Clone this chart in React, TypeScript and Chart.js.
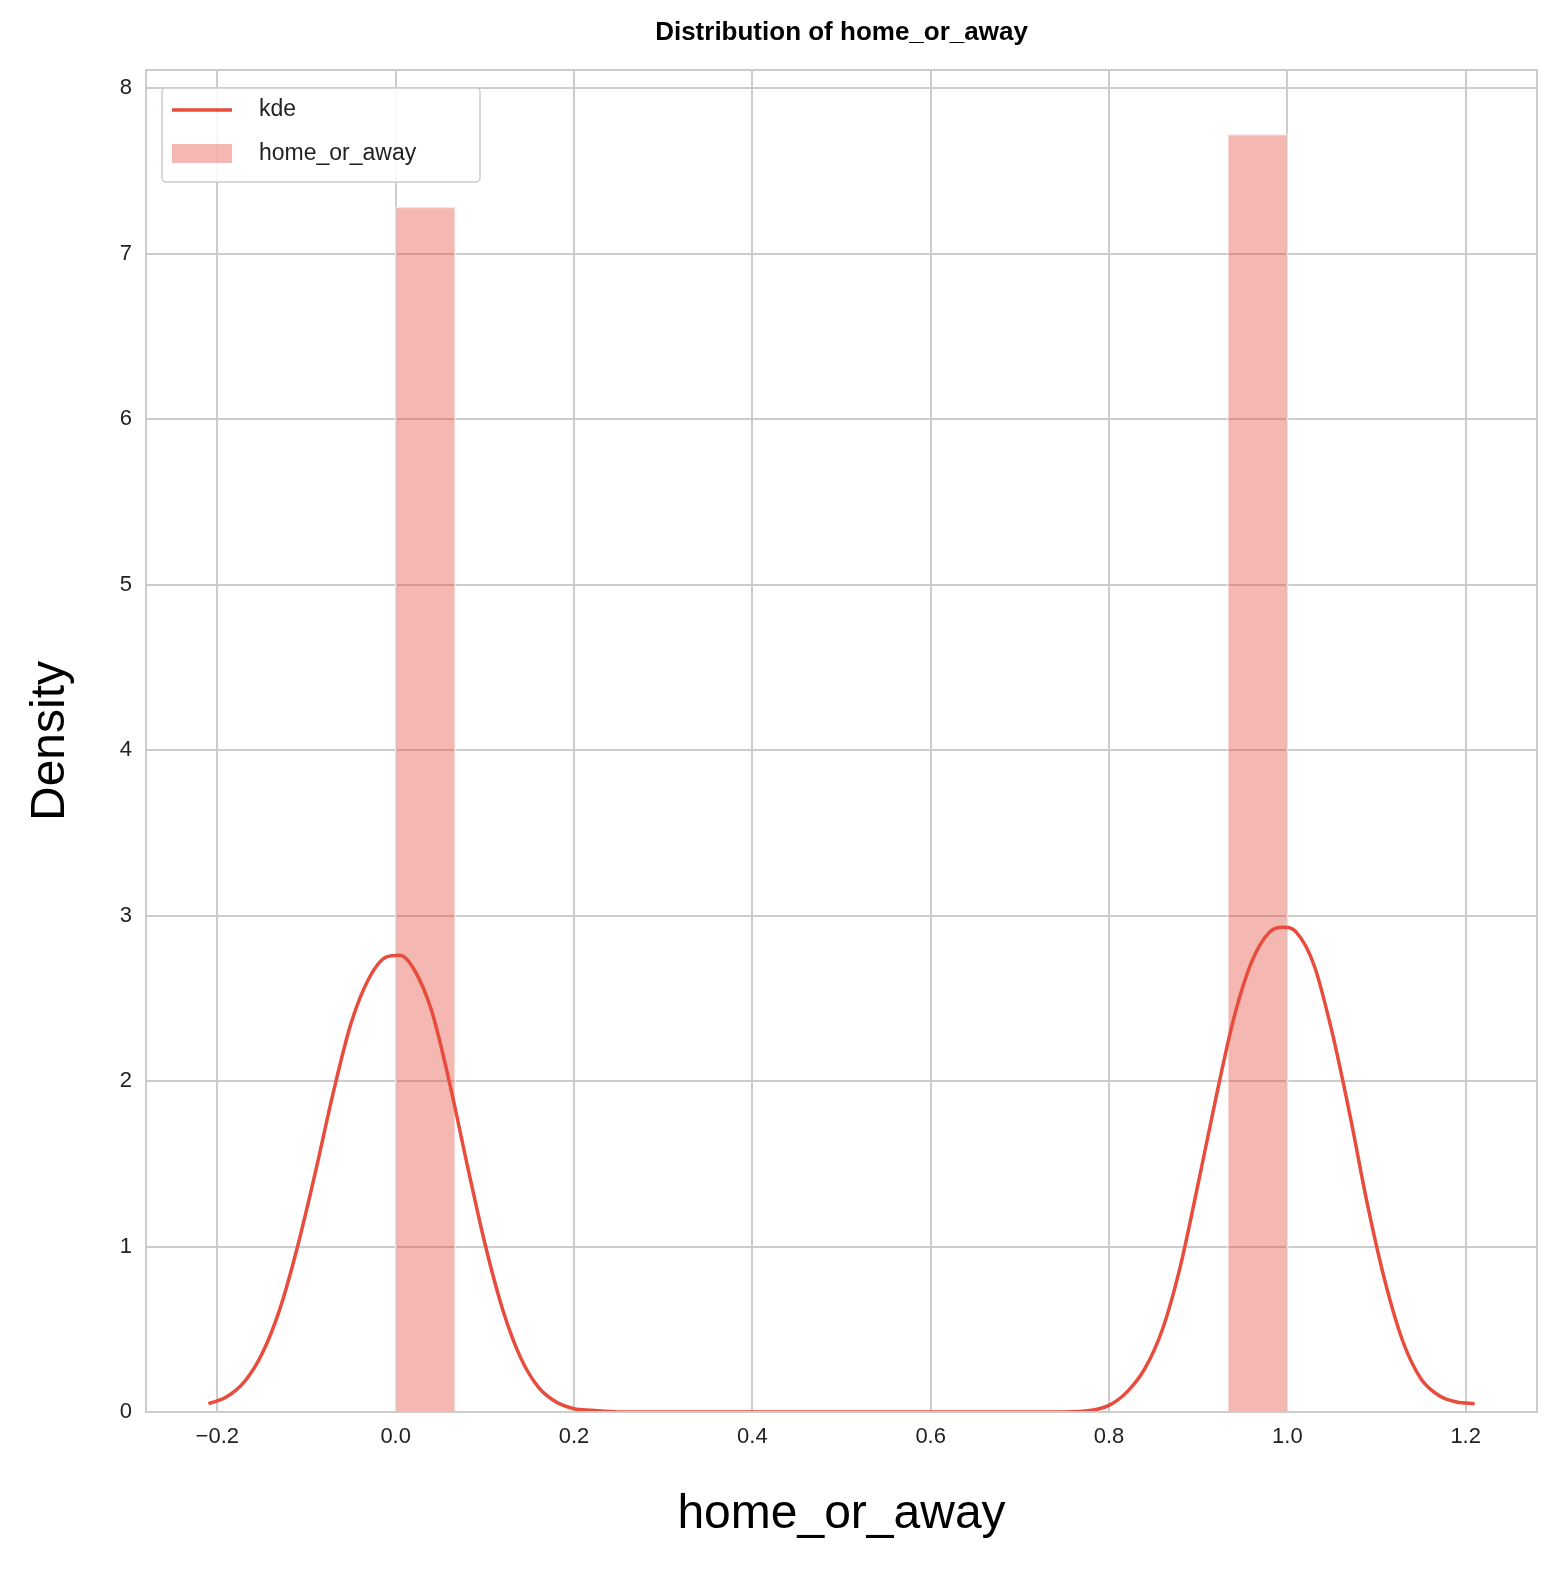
import { useEffect, useRef } from "react";
import { Chart, registerables } from "chart.js";

Chart.register(...registerables);

const kdeX = [-0.21, -0.19, -0.17, -0.15, -0.13, -0.11, -0.09, -0.07, -0.05, -0.03, -0.01, 0.005, 0.02, 0.04, 0.06, 0.08, 0.1, 0.12, 0.14, 0.16, 0.18, 0.2, 0.22, 0.25, 0.4, 0.6, 0.75, 0.78, 0.8, 0.82, 0.84, 0.86, 0.88, 0.9, 0.92, 0.94, 0.96, 0.98, 0.995, 1.01, 1.03, 1.05, 1.07, 1.09, 1.11, 1.13, 1.15, 1.17, 1.19, 1.21];
const kdeY = [0.05, 0.09, 0.18, 0.35, 0.62, 1.0, 1.45, 1.93, 2.35, 2.62, 2.75, 2.76, 2.68, 2.43, 2.0, 1.5, 1.02, 0.62, 0.33, 0.15, 0.06, 0.02, 0.01, 0.0, 0.0, 0.0, 0.0, 0.01, 0.04, 0.12, 0.26, 0.5, 0.88, 1.38, 1.9, 2.38, 2.72, 2.9, 2.93, 2.9, 2.7, 2.3, 1.8, 1.25, 0.78, 0.42, 0.2, 0.1, 0.06, 0.05];

const binEdges = [[0, 0.0667], [0.9333, 1.0]];
const binHeights = [7.28, 7.72];
const xTicks = [-0.2, 0, 0.2, 0.4, 0.6, 0.8, 1.0, 1.2];
const yTicks = [0, 1, 2, 3, 4, 5, 6, 7, 8];

const red = "#e74c3c";
const barFill = "rgba(231, 76, 60, 0.4)";
const font = "Arial, Liberation Sans, sans-serif";

// frame, title and legend
const decor = {
  id: "decor",
  afterDraw(chart: Chart) {
    const { ctx, chartArea: a } = chart;
    ctx.save();
    ctx.strokeStyle = "#cccccc";
    ctx.lineWidth = 2;
    ctx.strokeRect(a.left, a.top, a.right - a.left, a.bottom - a.top);
    ctx.fillStyle = "#000";
    ctx.font = `bold 26px ${font}`;
    ctx.textAlign = "center";
    ctx.textBaseline = "middle";
    ctx.fillText("Distribution of home_or_away", (a.left + a.right) / 2, 33);
    // legend
    const lx = a.left + 16, ly = a.top + 18;
    ctx.fillStyle = "rgba(255,255,255,0.85)";
    ctx.strokeStyle = "#cccccc";
    ctx.lineWidth = 1.5;
    ctx.beginPath();
    ctx.roundRect(lx, ly, 318, 94, 4);
    ctx.fill();
    ctx.stroke();
    ctx.strokeStyle = red;
    ctx.lineWidth = 3.5;
    ctx.beginPath();
    ctx.moveTo(lx + 10, ly + 22);
    ctx.lineTo(lx + 70, ly + 22);
    ctx.stroke();
    ctx.fillStyle = barFill;
    ctx.fillRect(lx + 10, ly + 56, 60, 19);
    ctx.fillStyle = "#222";
    ctx.font = `23px ${font}`;
    ctx.textAlign = "left";
    ctx.fillText("kde", lx + 97, ly + 22);
    ctx.fillText("home_or_away", lx + 97, ly + 66);
    ctx.restore();
  },
};

export default function App() {
  const ref = useRef<HTMLCanvasElement>(null);

  useEffect(() => {
    if (!ref.current) return;
    const bars = binEdges.map(([a, b], i) => ({
      label: "home_or_away",
      data: [
        { x: a, y: 0 },
        { x: a, y: binHeights[i] },
        { x: b, y: binHeights[i] },
        { x: b, y: 0 },
      ],
      borderColor: "rgba(255,255,255,0.5)",
      borderWidth: 2,
      backgroundColor: barFill,
      fill: "origin",
      pointRadius: 0,
      tension: 0,
    }));
    const chart = new Chart(ref.current, {
      type: "line",
      data: {
        datasets: [
          {
            label: "kde",
            data: kdeX.map((x, i) => ({ x, y: kdeY[i] })),
            borderColor: red,
            borderWidth: 3.5,
            pointRadius: 0,
            cubicInterpolationMode: "monotone",
            fill: false,
          },
          ...bars,
        ] as any,
      },
      options: {
        animation: false,
        responsive: false,
        layout: { padding: { left: 0, right: 27, top: 70, bottom: 0 } },
        plugins: {
          legend: { display: false },
          tooltip: { enabled: false },
        },
        scales: {
          x: {
            type: "linear",
            min: -0.28,
            max: 1.28,
            afterBuildTicks: (s) => {
              s.ticks = xTicks.map((v) => ({ value: v }));
            },
            afterFit: (s) => {
              s.height = 158;
            },
            ticks: {
              callback: (v) => Number(v).toFixed(1).replace("-", "\u2212"),
              font: { family: font, size: 22 },
              color: "#222",
              padding: 12,
            },
            grid: { color: "#cccccc", lineWidth: 2, drawTicks: false },
            border: { color: "#cccccc", width: 2 },
            title: {
              display: true,
              text: "home_or_away",
              font: { family: font, size: 48 },
              color: "#000",
              padding: { top: 0, bottom: 26 },
            },
          },
          y: {
            type: "linear",
            min: 0,
            max: 8.11,
            afterBuildTicks: (s) => {
              s.ticks = yTicks.map((v) => ({ value: v }));
            },
            afterFit: (s) => {
              s.width = 146;
            },
            ticks: {
              font: { family: font, size: 22 },
              color: "#222",
              padding: 14,
            },
            grid: { color: "#cccccc", lineWidth: 2, drawTicks: false },
            border: { color: "#cccccc", width: 2 },
            title: {
              display: true,
              text: "Density",
              font: { family: font, size: 48 },
              color: "#000",
              padding: { top: 22, bottom: 0 },
            },
          },
        },
      },
      plugins: [decor],
    });
    return () => chart.destroy();
  }, []);

  return (
    <div style={{ position: "fixed", left: 0, top: 0, width: 1564, height: 1570, background: "#fff" }}>
      <canvas ref={ref} width={1564} height={1570} />
    </div>
  );
}
